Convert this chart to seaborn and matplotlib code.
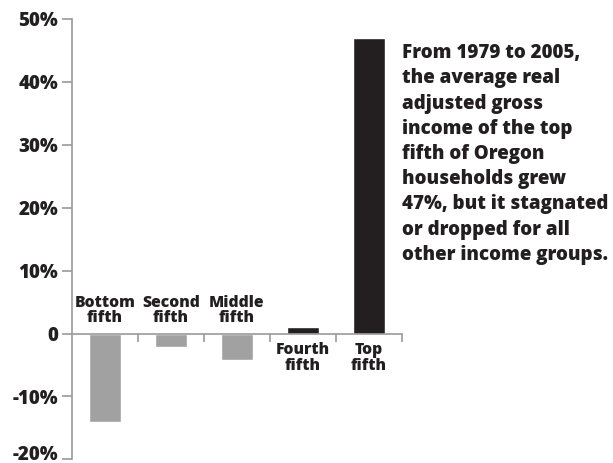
import matplotlib
matplotlib.use("Agg")
import matplotlib.pyplot as plt
import matplotlib.transforms as mtransforms
import seaborn as sns
import pandas as pd

categories = ["Bottom\nfifth", "Second\nfifth", "Middle\nfifth", "Fourth\nfifth", "Top\nfifth"]
values = [-14.1, -2.2, -4.2, 1.0, 47.0]
bar_colors = ["#a1a1a1", "#a1a1a1", "#a1a1a1", "#231f20", "#231f20"]
ytick_values = [-20, -10, 0, 10, 20, 30, 40, 50]
ytick_labels = ["-20%", "-10%", "0", "10%", "20%", "30%", "40%", "50%"]
note = ("From 1979 to 2005,\nthe average real\nadjusted gross\nincome of the top\n"
        "fifth of Oregon\nhouseholds grew\n47%, but it stagnated\n"
        "or dropped for all\nother income groups.")

sns.set_theme(style="white")
plt.rcParams["font.family"] = ["Open Sans", "DejaVu Sans"]

text_color = "#231f20"
axis_color = "#9a9a9a"
W = 800

fig = plt.figure(figsize=(6.13, 4.63), dpi=100)
ax = fig.add_axes([72 / 613, 3.7 / 463, 330 / 613, 440.3 / 463])

df = pd.DataFrame({"group": categories, "change": values})
sns.barplot(data=df, x="group", y="change", hue="group", palette=bar_colors,
            legend=False, width=0.47, saturation=1, ax=ax)

ax.set_xlim(-0.5, 4.5)
ax.set_ylim(-20, 50)
ax.set_xlabel("")
ax.set_ylabel("")

# y axis with percent ticks
ax.set_yticks(ytick_values)
ax.set_yticklabels(ytick_labels, fontsize=13.5, fontweight=W, color=text_color)
ax.tick_params(axis="y", direction="out", length=7, width=1.2, color=axis_color,
               left=True, pad=3)
# lift the lowest label a little so it sits inside the figure
lowest = ax.get_yticklabels()[0]
lowest.set_transform(lowest.get_transform() +
                     mtransforms.ScaledTranslation(0, 7 / 100, fig.dpi_scale_trans))

# baseline at zero with ticks separating the groups
ax.spines["bottom"].set_position(("data", 0))
ax.set_xticks([0.5, 1.5, 2.5, 3.5, 4.5])
ax.set_xticklabels([])
ax.tick_params(axis="x", direction="out", length=6, width=1.2, color=axis_color,
               bottom=True)
for side in ("top", "right"):
    ax.spines[side].set_visible(False)
for side in ("left", "bottom"):
    ax.spines[side].set_color(axis_color)
    ax.spines[side].set_linewidth(1.2)

# group names: above the baseline for losses, below it for gains
for i, (name, v) in enumerate(zip(categories, values)):
    if v < 0:
        ax.text(i, 1.2, name, ha="center", va="bottom", fontsize=11.3,
                fontweight=W, color=text_color, linespacing=0.95)
    else:
        ax.text(i, -1.4, name, ha="center", va="top", fontsize=11.3,
                fontweight=W, color=text_color, linespacing=0.95)

fig.text(402 / 613, 1 - 43 / 463, note, ha="left", va="top", fontsize=13.5,
         fontweight=W, color=text_color, linespacing=1.35)

fig.savefig("out.png", dpi=100)
